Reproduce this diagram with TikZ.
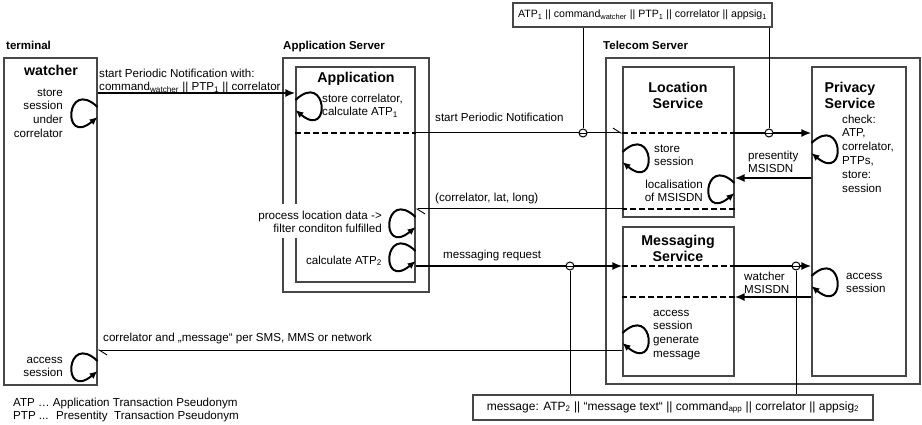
\documentclass[tikz,border=0pt]{standalone}
\usepackage{fontspec}
\setmainfont{Liberation Sans}
\usetikzlibrary{arrows.meta,fit}
\newcommand\idx[1]{\textsubscript{#1}}
\begin{document}
\begin{tikzpicture}[x=1pt,y=-1pt,
  boxframe/.style={draw=black!72, line width=1.1pt, inner sep=0pt},
  sigbox/.style={boxframe, rectangle},
  boxtitle/.style={font=\fontsize{14.2}{16.5}\selectfont\bfseries, align=center, inner sep=0pt, anchor=north},
  grouphead/.style={font=\fontsize{11.5}{13.8}\selectfont\bfseries, inner sep=0pt, anchor=north west},
  txt/.style={font=\fontsize{11.6}{13.8}\selectfont, inner sep=0pt, align=left, anchor=north west},
  txtr/.style={txt, align=right, anchor=north east},
  msgflow/.style={line width=2.4pt, -{Latex[length=10pt,width=8pt]}},
  passthru/.style={line width=1.9pt, dash pattern=on 5.5pt off 3.5pt},
  note/.style={line width=1pt, -{Straight Barb[harpoon,length=8pt,width=10pt,line width=0.9pt]}},
  stub/.style={line width=1pt},
  tapcircle/.style={circle, draw, line width=1pt, fill=white, minimum size=8pt, inner sep=0pt,
    path picture={\draw[line width=0.9pt] (path picture bounding box.west) -- (path picture bounding box.east);}},
  looparrow/.style={line width=2pt, -{Latex[length=8pt,width=7pt]}},
  loopL/.pic={\draw[looparrow] (0,0) .. controls (-32,-30) and (-36,40) .. (0,10);},
  loopR/.pic={\draw[looparrow] (0,0) .. controls (32,-30) and (36,40) .. (0,10);},
]
\path[fill=white] (0,0) rectangle (922,425);
\useasboundingbox (0,0) rectangle (922,425);

% group headings
\node[grouphead] (hterm) at (6,39.3) {\strut terminal};
\node[grouphead] (happ) at (283,39.3) {\strut Application Server};
\node[grouphead] (htel) at (603,39.3) {\strut Telecom Server};

% boxes
\node[boxframe, fit={(4,58) (97,385)}] (watcher) {};
\node[boxframe, fit={(283,58) (429,292)}] (appsrv) {};
\node[boxframe, fit={(296,67) (415,282)}] (app) {};
\node[boxframe, fit={(606,58) (920,384)}] (telecom) {};
\node[boxframe, fit={(623,67) (734,217)}] (loc) {};
\node[boxframe, fit={(812,67) (906,376)}] (priv) {};
\node[boxframe, fit={(623,227) (734,376)}] (msgsvc) {};

% transmitted content
\node[sigbox, minimum width=259pt, minimum height=24pt, font=\fontsize{10.6}{12}\selectfont] (sig1) at (642.5,15)
  {ATP\idx{1} || command\idx{watcher} || PTP\idx{1} || correlator || appsig\idx{1}};
\node[sigbox, minimum width=400pt, minimum height=25pt, font=\fontsize{12}{13}\selectfont] (sig2) at (673,407.5)
  {message: ATP\idx{2} || “message text“ || command\idx{app} || correlator || appsig\idx{2}};

% box titles
\node[boxtitle] (twatch) at (51,63.5) {\strut watcher};
\node[boxtitle] (tapp) at (356,70.5) {\strut Application};
\node[boxtitle] (tloc) at (678,80.5) {\strut Location\\Service};
\node[boxtitle] (tpriv) at (850,80.5) {\strut Privacy\\Service};
\node[boxtitle] (tmsg) at (678,233.5) {\strut Messaging\\Service};

% step descriptions
\node[txtr] (dwatch1) at (63,86.3) {\strut store\\session\\under\\correlator};
\node[txtr] (dwatch2) at (63,353.3) {\strut access\\session};
\node[txt] (dapp1) at (322,92.3) {\strut store correlator,\\calculate ATP\idx{1}};
\node[txtr, fill=white, inner sep=5pt] (dapp2) at (387,204.3) {\strut process location data ->\\filter conditon fulfilled};
\node[txtr] (dapp3) at (382,254.3) {\strut calculate ATP\idx{2}};
\node[txt] (dloc1) at (654,142.3) {\strut store\\session};
\node[txtr] (dloc2) at (703,178.3) {\strut localisation\\of MSISDN};
\node[txt] (dpriv1) at (842,113.3) {\strut check:\\ATP,\\correlator,\\PTPs,\\store:\\session};
\node[txt] (dpriv2) at (846,269.3) {\strut access\\session};
\node[txt] (dmsg) at (653,306.3) {\strut access\\session\\generate\\message};

% message labels
\node[txt] (l1) at (99,67.3) {\strut start Periodic Notification with:\\command\idx{watcher} || PTP\idx{1} || correlator};
\node[txt] (l2) at (435,111.3) {\strut start Periodic Notification};
\node[txt] (l3) at (748,149.3) {\strut presentity\\MSISDN};
\node[txt] (l4) at (435,191.3) {\strut (correlator, lat, long)};
\node[txt] (l5) at (443,248.3) {\strut messaging request};
\node[txt] (l6) at (744,270.3) {\strut watcher\\MSISDN};
\node[txt] (l7) at (103,331.3) {\strut correlator and „message“ per SMS, MMS or network};

% legend
\node[txt] (legend) at (13,396.3) {\strut ATP … Application Transaction Pseudonym\\PTP ...~ Presentity~ Transaction Pseudonym};

% message flows
\draw[msgflow] (watcher.east |- 0,93) -- (app.west |- 0,93);
\draw[passthru] (app.west |- 0,133) -- (app.east |- 0,133);
\draw[note] (app.east |- 0,133) -- (loc.west |- 0,133);
\draw[passthru] (loc.west |- 0,133) -- (loc.east |- 0,133);
\draw[msgflow] (loc.east |- 0,133) -- (priv.west |- 0,133);
\draw[msgflow] (priv.west |- 0,178) -- (loc.east |- 0,178);
\draw[passthru] (loc.east |- 0,209) -- (loc.west |- 0,209);
\draw[note] (loc.west |- 0,209) -- (app.east |- 0,209);
\draw[msgflow] (app.east |- 0,266) -- (msgsvc.west |- 0,266);
\draw[passthru] (msgsvc.west |- 0,266) -- (msgsvc.east |- 0,266);
\draw[msgflow] (msgsvc.east |- 0,266) -- (priv.west |- 0,266);
\draw[msgflow] (priv.west |- 0,297) -- (msgsvc.east |- 0,297);
\draw[passthru] (msgsvc.east |- 0,297) -- (msgsvc.west |- 0,297);
\draw[note] (msgsvc.west |- 0,350) -- (watcher.east |- 0,350);

% taps showing the transmitted content
\node[tapcircle] (tap1) at (583,133) {};
\node[tapcircle] (tap2) at (769,133) {};
\node[tapcircle] (tap3) at (570,266) {};
\node[tapcircle] (tap4) at (796,266) {};
\draw[stub] (tap1.north) -- (tap1 |- sig1.south);
\draw[stub] (tap2.north) -- (tap2 |- sig1.south);
\draw[stub] (tap3.south) -- (tap3 |- sig2.north);
\draw[stub] (tap4.south) -- (tap4 |- sig2.north);

% internal processing loops
\pic at (watcher.east |- 0,107) {loopL};
\pic at (watcher.east |- 0,361) {loopL};
\pic at (app.west |- 0,100) {loopR};
\pic at (app.east |- 0,217) {loopL};
\pic at (app.east |- 0,251) {loopL};
\pic at (loc.west |- 0,152) {loopR};
\pic at (loc.east |- 0,183) {loopL};
\pic at (priv.west |- 0,143) {loopR};
\pic at (priv.west |- 0,276) {loopR};
\pic at (msgsvc.west |- 0,333) {loopR};
\end{tikzpicture}
\end{document}
